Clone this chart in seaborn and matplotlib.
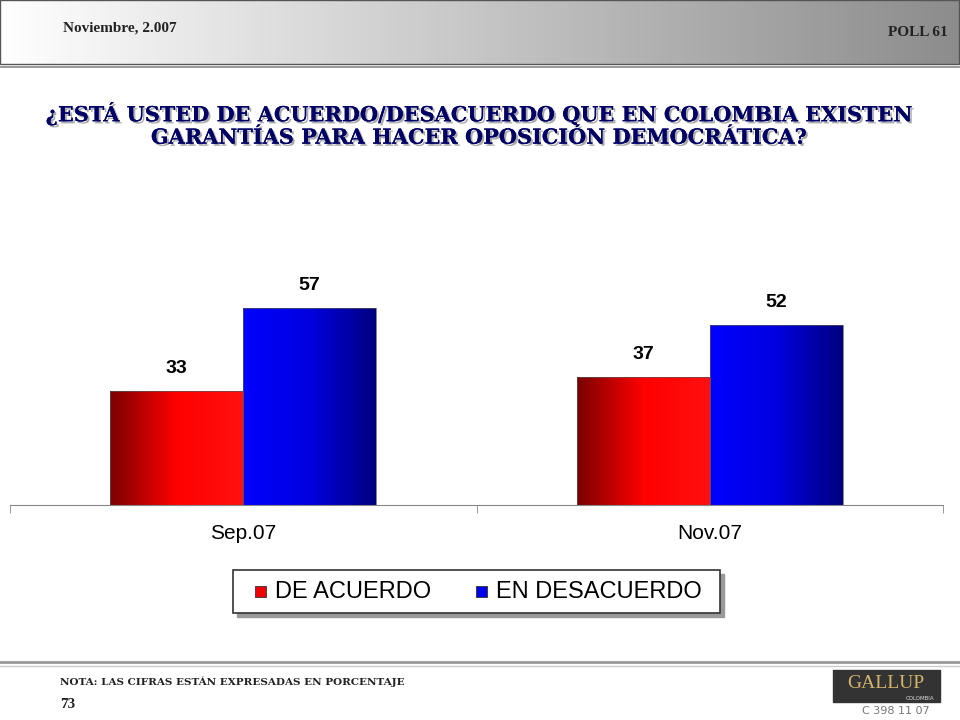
import numpy as np
import pandas as pd
import matplotlib
matplotlib.use("Agg")
import matplotlib.pyplot as plt
import matplotlib.patheffects as pe
import seaborn as sns
from matplotlib.patches import Rectangle
from matplotlib.colors import LinearSegmentedColormap

periods = ["Sep.07", "Nov.07"]
series = ["DE ACUERDO", "EN DESACUERDO"]
acuerdo = [33, 37]
desacuerdo = [57, 52]

df = pd.DataFrame({
    "period": periods * 2,
    "serie": [series[0]] * 2 + [series[1]] * 2,
    "value": acuerdo + desacuerdo,
})

W, H = 960, 720
fig = plt.figure(figsize=(9.6, 7.2), dpi=100)
bg = fig.add_axes([0, 0, 1, 1]); bg.set_xlim(0, W); bg.set_ylim(H, 0); bg.axis("off")

grad = np.linspace(1, 0.55, 256)[None, :]
bg.imshow(np.dstack([grad]*3), extent=[0, W, 65, 0], aspect="auto")
bg.add_patch(Rectangle((0, 0), W - 1, 64, fill=False, ec="#555555", lw=1))
bg.plot([0, W], [67, 67], color="#888888", lw=1.2)
bg.text(120, 28, "Noviembre, 2.007", ha="center", va="center", fontsize=11, fontweight="bold",
        family="Liberation Serif", color="#222222")
bg.text(948, 32, "POLL 61", ha="right", va="center", fontsize=11, fontweight="bold",
        family="Liberation Serif", color="#222222")
title = "¿ESTÁ USTED DE ACUERDO/DESACUERDO QUE EN COLOMBIA EXISTEN\nGARANTÍAS PARA HACER OPOSICIÓN DEMOCRÁTICA?"
bg.text(480, 125, title, ha="center", va="center", fontsize=15, fontweight="bold",
        family="DejaVu Serif", color="#000066", linespacing=1.15,
        path_effects=[pe.withSimplePatchShadow(offset=(1.5, -1.5), shadow_rgbFace="#aaaaaa", alpha=1), pe.Normal()])

bg.plot([0, W], [662, 662], color="#999999", lw=2)
bg.plot([0, W], [666, 666], color="#cccccc", lw=1)
bg.text(60, 682, "NOTA: LAS CIFRAS ESTÁN EXPRESADAS EN PORCENTAJE", ha="left", va="center",
        fontsize=7.5, fontweight="bold", family="DejaVu Serif", color="#222222")
bg.text(60, 705, "73", ha="left", va="center", fontsize=11, fontweight="bold",
        family="Liberation Serif", color="#222222")
bg.add_patch(Rectangle((833, 670), 107, 32, color="#333333"))
bg.text(886, 684, "GALLUP", ha="center", va="center", fontsize=14, family="Liberation Serif", color="#d4b36a")
bg.text(920, 698, "COLOMBIA", ha="center", va="center", fontsize=4, color="#dddddd")
bg.text(930, 711, "C 398 11 07", ha="right", va="center", fontsize=8, family="DejaVu Sans", color="#777777")

ax = fig.add_axes([10 / W, 1 - 505 / H, 933 / W, (505 - 180) / H])
sns.barplot(data=df, x="period", y="value", hue="serie", palette=["#ff0000", "#0000ff"],
            width=0.57, ax=ax, legend=False, saturation=1)
for s in ["top", "right", "left"]:
    ax.spines[s].set_visible(False)
ax.spines["bottom"].set_color("#888888")
ax.set_yticks([])
ax.set_xlabel(""); ax.set_ylabel("")
ax.set_xticks([-0.5, 0.5, 1.5], minor=True)
ax.tick_params(axis="x", which="minor", length=6, color="#888888", direction="out")
ax.tick_params(axis="x", which="major", length=0, pad=14)
for t in ax.get_xticklabels():
    t.set_fontsize(15); t.set_family("Liberation Sans")

cm_r = LinearSegmentedColormap.from_list("r", ["#7a0000", "#ff0000", "#ff1010"])
cm_b = LinearSegmentedColormap.from_list("b", ["#0000ff", "#0000e0", "#000080"])
g = np.linspace(0, 1, 256)[None, :]
for p in list(ax.patches):
    x0, w, h = p.get_x(), p.get_width(), p.get_height()
    cm = cm_r if p.get_facecolor()[0] > 0.5 else cm_b
    im = ax.imshow(g, cmap=cm, extent=[x0, x0 + w, 0, h], aspect="auto", zorder=2)
    im.set_clip_path(p)
    p.set_facecolor("none"); p.set_edgecolor("#555555"); p.set_linewidth(0.5)
    p.set_zorder(3)
    ax.text(x0 + w / 2, h + 4, f"{h:.0f}", ha="center", va="bottom", fontsize=14,
            fontweight="bold", family="Liberation Sans", color="#000000")
ax.set_xlim(-0.5, 1.5); ax.set_ylim(0, 325 / 3.46)

bg.add_patch(Rectangle((237, 574), 487, 43, color="#999999"))
bg.add_patch(Rectangle((233, 570), 487, 43, fc="white", ec="#333333", lw=1.2))
for x, lab, c in [(255, series[0], "#ee0000"), (476, series[1], "#0000ee")]:
    bg.add_patch(Rectangle((x, 586), 11, 11, fc=c, ec="#333333", lw=0.6))
    bg.text(x + 20, 592, lab, ha="left", va="center", fontsize=17, family="Liberation Sans", color="#000000")

fig.savefig("out.png", dpi=100)
